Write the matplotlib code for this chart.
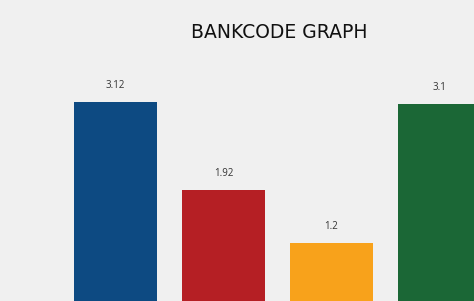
import matplotlib
matplotlib.use('Agg')
import matplotlib.pyplot as plt

# chart data
categories = ['A', 'B', 'C', 'D']
values = [3.12, 1.92, 1.2, 3.1]
labels = ['3.12', '1.92', '1.2', '3.1']
colors = ['#0d4a82', '#b51f24', '#f8a21b', '#1b6736']

bg = '#f0f0f0'
fig = plt.figure(figsize=(4.74, 3.01), dpi=100)
fig.patch.set_facecolor(bg)

# axes run past the bottom of the figure, like the cropped original
ax = fig.add_axes([0, -0.0997, 1, 0.974])
ax.set_facecolor(bg)

x = list(range(len(values)))
ax.bar(x, values, width=0.768, color=colors)
for xi, v, lab in zip(x, values, labels):
    ax.annotate(lab, (xi, v), xytext=(0, 8), textcoords='offset points',
                ha='center', va='bottom', fontsize=7, color='#333333',
                family='Open Sans')

ax.set_xlim(-1.069, 3.319)
ax.set_ylim(0, 4)
ax.axis('off')

fig.text(0.589, 0.892, 'BANKCODE GRAPH', ha='center', va='center',
         fontsize=13.5, color='#111111', family='DejaVu Sans')

fig.savefig('out.png', dpi=100, facecolor=bg)
